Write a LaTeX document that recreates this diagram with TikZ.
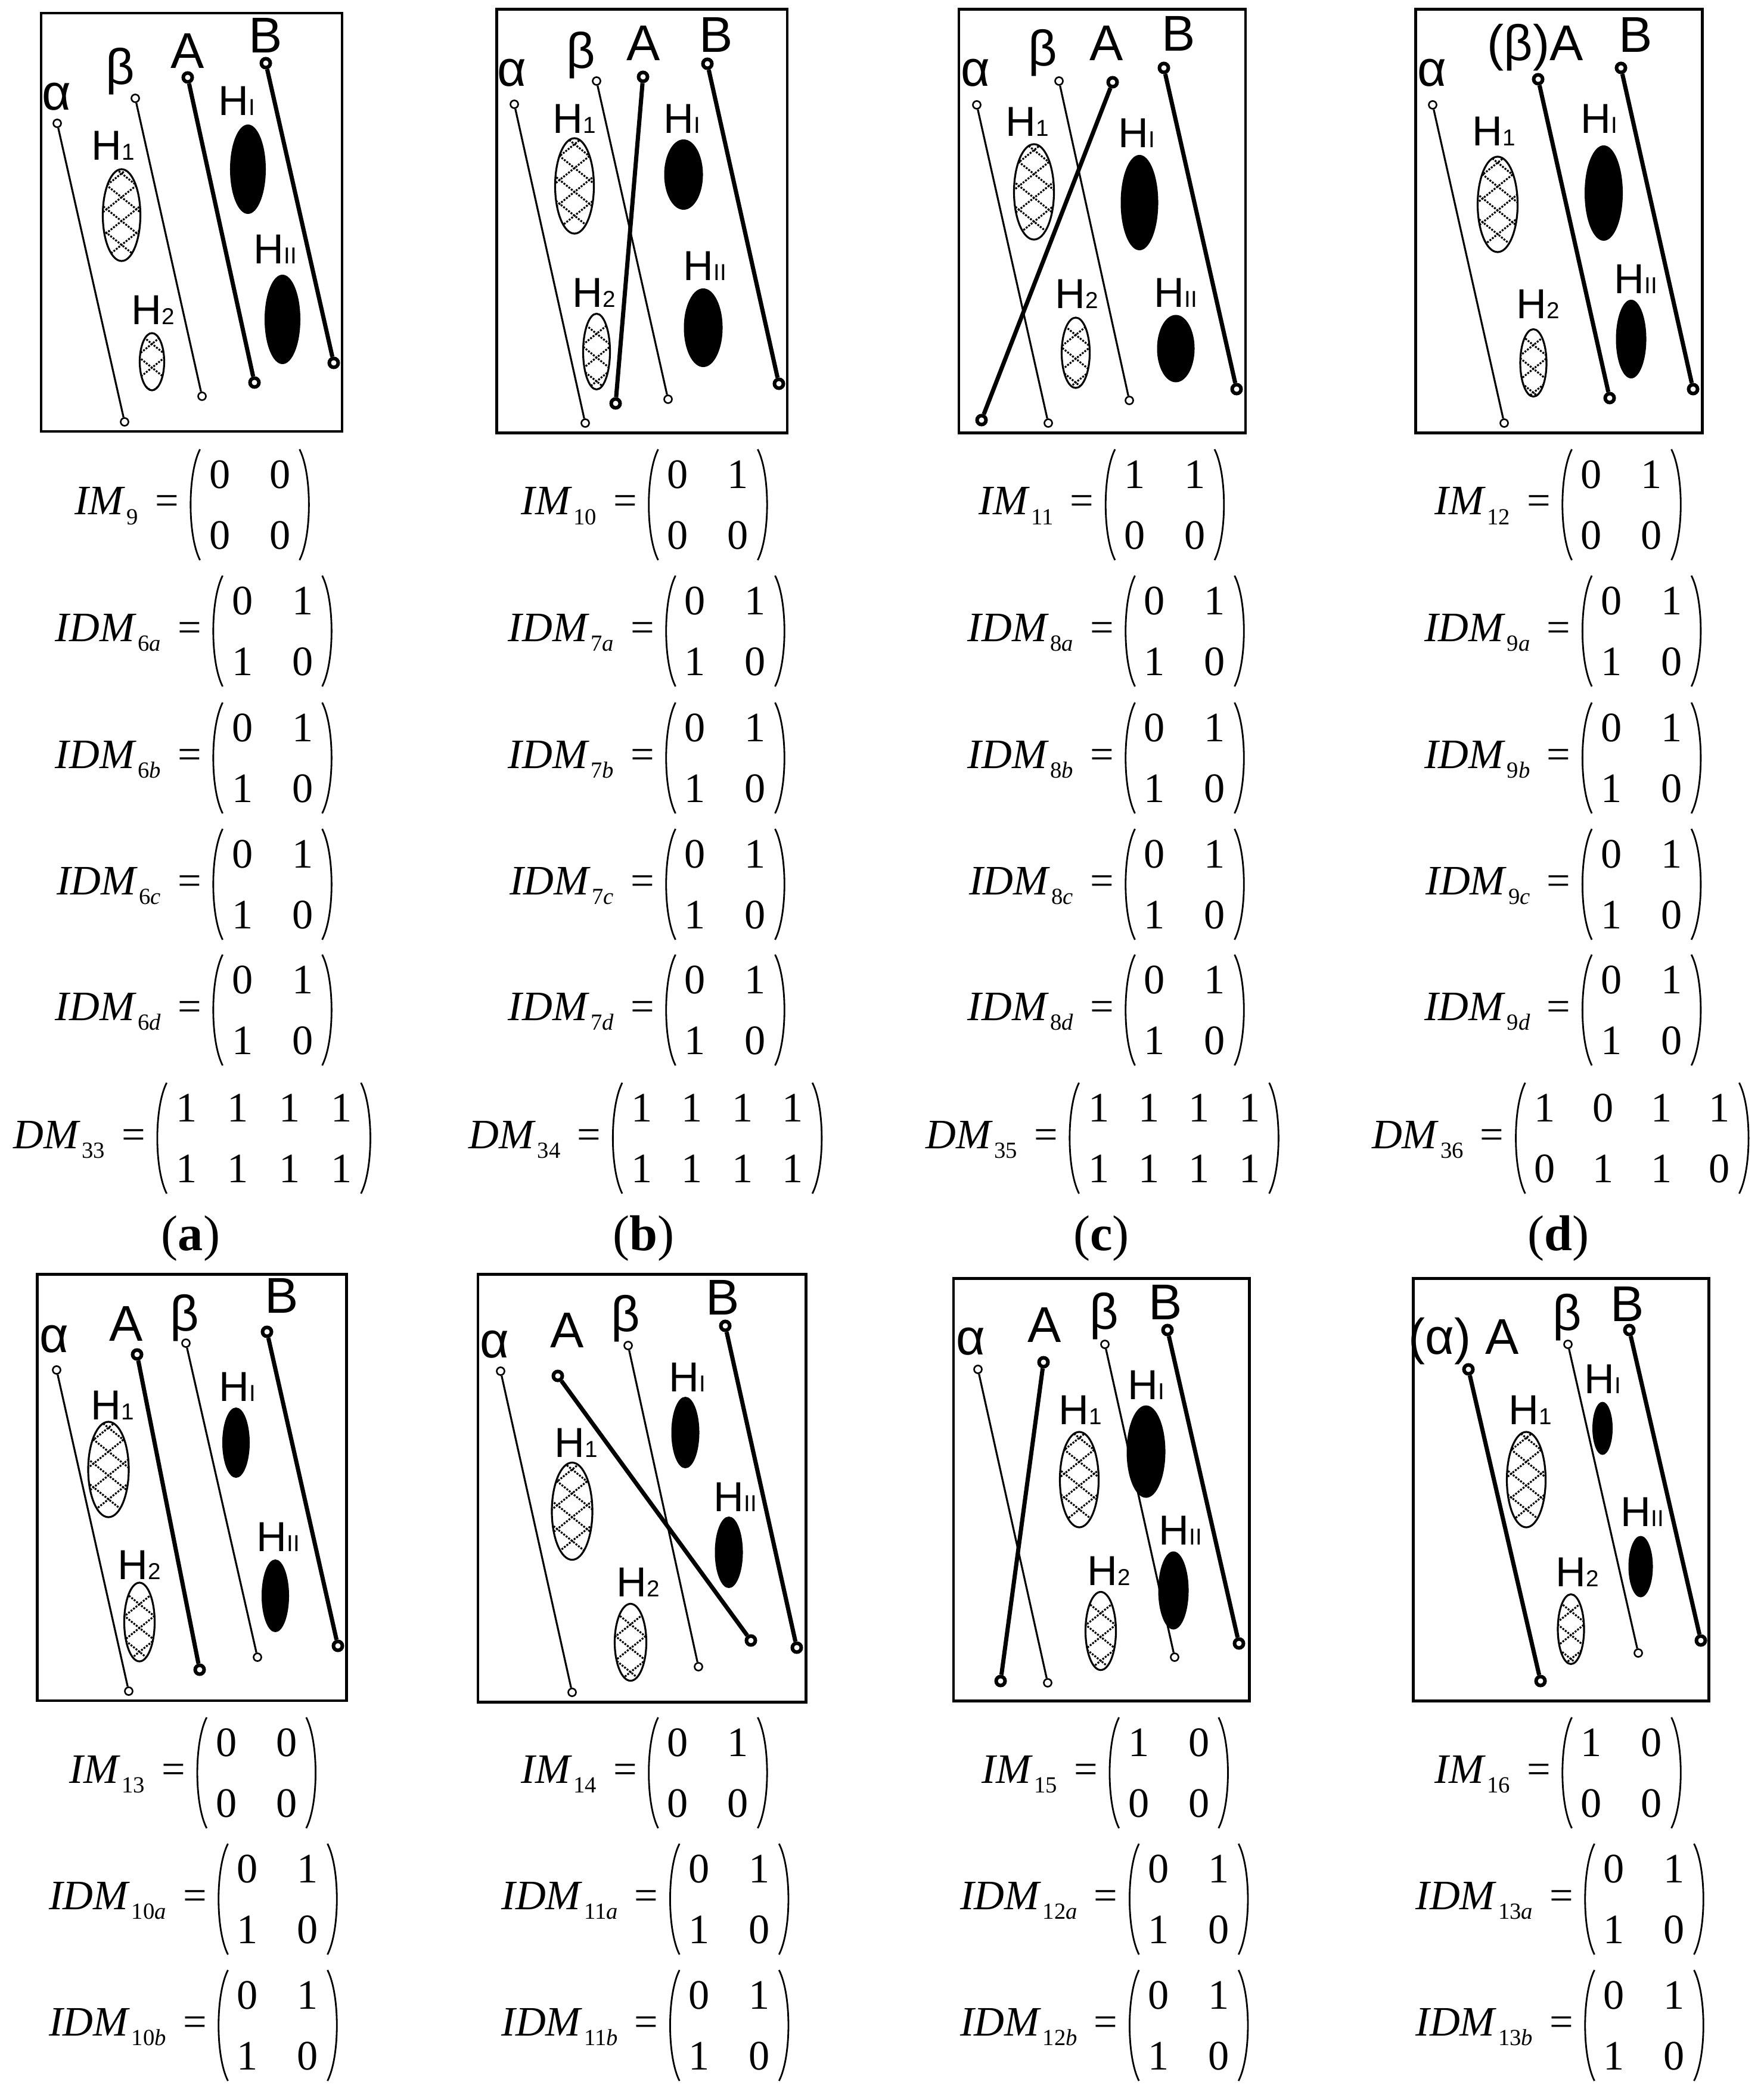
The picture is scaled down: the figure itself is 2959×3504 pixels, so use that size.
\documentclass[tikz,border=0pt]{standalone}
\usepackage{fontspec}
\setmainfont{Liberation Serif}
\newfontfamily\sansf{Liberation Sans}
\usetikzlibrary{shapes.geometric}
\newcommand\msub[1]{\hspace{0.08em}\raisebox{-0.24em}{\fontsize{11pt}{11pt}\selectfont #1}}
\newcommand\hsub[1]{{\fontsize{11pt}{11pt}\selectfont #1}}
\newcommand\mkseg[6]{\node[#2dot] (#1s) at (#3,#4) {}; \node[#2dot] (#1e) at (#5,#6) {}; \draw[#2line] (#1s) -- (#1e);}
\newcommand\myell[6]{\node[#2, minimum width=#5*0.2845pt, minimum height=#6*0.2845pt] (#1) at (#3,#4) {};}
\newcommand\mkeq[8]{%
 \node[lhsnode] (#1l) at ({#2-19},{#3+17}) {#4\hspace{0.4em}=};
 \draw[paren] ({#2+16},{#3-93}) .. controls ({#2-5},{#3-52}) and ({#2-5},{#3+52}) .. ({#2+16},{#3+93});
 \draw[paren] ({#2+#5-16},{#3-93}) .. controls ({#2+#5+5},{#3-52}) and ({#2+#5+5},{#3+52}) .. ({#2+#5-16},{#3+93});
 \foreach \v [count=\k from 0] in {#7} {\node[ent] (#1a\k) at ({#2+49+\k*(#5-98)/(#6-1)},{#3-51}) {\v};}
 \foreach \v [count=\k from 0] in {#8} {\node[ent] (#1b\k) at ({#2+49+\k*(#5-98)/(#6-1)},{#3+51}) {\v};}
}
\tikzset{
 panelbox/.style={draw, line width=1.3pt, inner sep=0pt},
 biglab/.style={font=\sansf\fontsize{24pt}{24pt}\selectfont, inner sep=0pt},
 hlab/.style={font=\sansf\fontsize{20pt}{20pt}\selectfont, inner sep=0pt},
 thindot/.style={circle, draw, fill=white, line width=0.75pt, inner sep=0pt, minimum size=0.13cm},
 thickdot/.style={circle, draw, fill=white, line width=1.7pt, inner sep=0pt, minimum size=0.15cm},
 thinline/.style={line width=0.9pt},
 thickline/.style={line width=2pt},
 hatchline/.style={line width=0.9pt, dash pattern=on 0.9pt off 0.6pt},
 hatchell/.style={ellipse, draw, fill=white, line width=0.9pt, inner sep=0pt,
   path picture={\foreach \k in {-4,...,4}{
     \draw[hatchline] ([shift={(\k*50-150,-110)}]path picture bounding box.center) -- ++(300,240);
     \draw[hatchline] ([shift={(\k*50-150,130)}]path picture bounding box.center) -- ++(300,-240);}}},
 blackell/.style={ellipse, fill=black, inner sep=0pt},
 paren/.style={line width=0.8pt},
 ent/.style={font=\fontsize{20pt}{24pt}\selectfont, inner sep=0pt},
 lhsnode/.style={font=\fontsize{20pt}{24pt}\selectfont, inner sep=0pt, anchor=base east},
 caplab/.style={font=\fontsize{24pt}{28pt}\selectfont, inner sep=0pt}
}
\begin{document}
\begin{tikzpicture}[x=0.01cm, y=-0.01cm]
\path[use as bounding box] (0,0) rectangle (2959,3504);
% ---------- panel a
\node[panelbox, minimum width=505*0.2845pt, minimum height=702*0.2845pt] (aBox) at (321.5,373) {};
\node[biglab] (aLal) at (95,162) {α};
\node[biglab] (aLbe) at (202,120) {β};
\node[biglab] (aLA) at (315,85) {A};
\node[biglab] (aLB) at (446,59) {B};
\mkseg{aal}{thin}{96}{207}{209}{708}
\mkseg{abe}{thin}{227}{165}{339}{665}
\mkseg{aA}{thick}{315}{130}{427}{642}
\mkseg{aB}{thick}{446}{106}{560}{609}
\node[hlab] (aH1) at (190,244) {H\hsub{1}};
\node[hlab] (aH2) at (257,520) {H\hsub{2}};
\node[hlab] (aHI) at (397,169) {H\hsub{I}};
\node[hlab] (aHII) at (462,418) {H\hsub{II}};
\myell{aE1}{hatchell}{204}{361}{63}{154}
\myell{aE2}{hatchell}{255}{607}{41}{96}
\myell{aEI}{blackell}{416}{284}{60}{150}
\myell{aEII}{blackell}{474}{536}{60}{150}
% ---------- panel b
\node[panelbox, minimum width=487*0.2845pt, minimum height=711*0.2845pt] (bBox) at (1077.2,371) {};
\node[biglab] (bLal) at (859,122) {α};
\node[biglab] (bLbe) at (975,93) {β};
\node[biglab] (bLA) at (1080,72) {A};
\node[biglab] (bLB) at (1202,58) {B};
\mkseg{bal}{thin}{863}{175}{982}{710}
\mkseg{bbe}{thin}{1001}{136}{1121}{670}
\mkseg{bA}{thick}{1079}{129}{1033}{677}
\mkseg{bB}{thick}{1187}{107}{1307}{644}
\node[hlab] (bH1) at (964,199) {H\hsub{1}};
\node[hlab] (bH2) at (997,491) {H\hsub{2}};
\node[hlab] (bHI) at (1144,199) {H\hsub{I}};
\node[hlab] (bHII) at (1183,446) {H\hsub{II}};
\myell{bE1}{hatchell}{964}{312}{65}{160}
\myell{bE2}{hatchell}{1001}{590}{45}{127}
\myell{bEI}{blackell}{1147}{293}{65}{118}
\myell{bEII}{blackell}{1180}{550}{65}{132}
% ---------- panel c
\node[panelbox, minimum width=480.5*0.2845pt, minimum height=711*0.2845pt] (cBox) at (1849.4,371) {};
\node[biglab] (cLal) at (1637,122) {α};
\node[biglab] (cLbe) at (1750,89) {β};
\node[biglab] (cLA) at (1857,72) {A};
\node[biglab] (cLB) at (1978,56) {B};
\mkseg{cal}{thin}{1639}{176}{1759}{710}
\mkseg{cbe}{thin}{1777}{136}{1895}{672}
\mkseg{cA}{thick}{1867}{138}{1647}{705}
\mkseg{cB}{thick}{1953}{114}{2075}{653}
\node[hlab] (cH1) at (1724,204) {H\hsub{1}};
\node[hlab] (cH2) at (1807,493) {H\hsub{2}};
\node[hlab] (cHI) at (1907,223) {H\hsub{I}};
\node[hlab] (cHII) at (1973,491) {H\hsub{II}};
\myell{cE1}{hatchell}{1735}{322}{67}{160}
\myell{cE2}{hatchell}{1805}{592}{47}{118}
\myell{cEI}{blackell}{1912}{340}{63}{160}
\myell{cEII}{blackell}{1973}{585}{63}{113}
% ---------- panel d
\node[panelbox, minimum width=480.5*0.2845pt, minimum height=711*0.2845pt] (dBox) at (2616,371) {};
\node[biglab] (dLal) at (2403,122) {α};
\node[biglab, anchor=base] (dLA) at (2576,102) {(β)A};
\node[biglab] (dLB) at (2745,58) {B};
\mkseg{dal}{thin}{2404}{176}{2524}{710}
\mkseg{dA}{thick}{2581}{133}{2701}{668}
\mkseg{dB}{thick}{2720}{114}{2841}{653}
\node[hlab] (dH1) at (2507,220) {H\hsub{1}};
\node[hlab] (dH2) at (2581,510) {H\hsub{2}};
\node[hlab] (dHI) at (2683,199) {H\hsub{I}};
\node[hlab] (dHII) at (2745,468) {H\hsub{II}};
\myell{dE1}{hatchell}{2513}{343}{67}{160}
\myell{dE2}{hatchell}{2573}{609}{44}{113}
\myell{dEI}{blackell}{2691}{324}{64}{160}
\myell{dEII}{blackell}{2737}{569}{51}{132}
% ---------- panel e
\node[panelbox, minimum width=518.5*0.2845pt, minimum height=715*0.2845pt] (eBox) at (321.9,2496.4) {};
\node[biglab] (eLal) at (91,2247) {α};
\node[biglab] (eLA) at (212,2221) {A};
\node[biglab] (eLbe) at (310,2212) {β};
\node[biglab] (eLB) at (473,2174) {B};
\mkseg{eal}{thin}{95}{2299}{216}{2838}
\mkseg{eA}{thick}{230}{2273}{335}{2802}
\mkseg{ebe}{thin}{312}{2254}{432}{2781}
\mkseg{eB}{thick}{448}{2235}{567}{2762}
\node[hlab] (eH1) at (189,2358) {H\hsub{1}};
\node[hlab] (eH2) at (234,2626) {H\hsub{2}};
\node[hlab] (eHI) at (398,2327) {H\hsub{I}};
\node[hlab] (eHII) at (467,2579) {H\hsub{II}};
\myell{eE1}{hatchell}{182}{2466}{68}{160}
\myell{eE2}{hatchell}{234}{2722}{51}{132}
\myell{eEI}{blackell}{396}{2421}{46}{118}
\myell{eEII}{blackell}{462}{2678}{46}{122}
% ---------- panel f
\node[panelbox, minimum width=549.8*0.2845pt, minimum height=717.4*0.2845pt] (fBox) at (1077.2,2497.5) {};
\node[biglab] (fLal) at (830,2256) {α};
\node[biglab] (fLA) at (952,2232) {A};
\node[biglab] (fLbe) at (1050,2213) {β};
\node[biglab] (fLB) at (1213,2177) {B};
\mkseg{fal}{thin}{840}{2301}{960}{2840}
\mkseg{fA}{thick}{936}{2309}{1260}{2753}
\mkseg{fbe}{thin}{1054}{2258}{1172}{2797}
\mkseg{fB}{thick}{1217}{2225}{1337}{2765}
\node[hlab] (fH1) at (967,2421) {H\hsub{1}};
\node[hlab] (fH2) at (1071,2655) {H\hsub{2}};
\node[hlab] (fHI) at (1153,2311) {H\hsub{I}};
\node[hlab] (fHII) at (1234,2512) {H\hsub{II}};
\myell{fE1}{hatchell}{960}{2536}{68}{163}
\myell{fE2}{hatchell}{1058}{2756}{53}{129}
\myell{fEI}{blackell}{1150}{2404}{47}{120}
\myell{fEII}{blackell}{1223}{2605}{47}{120}
% ---------- panel g
\node[panelbox, minimum width=496*0.2845pt, minimum height=708.5*0.2845pt] (gBox) at (1848.3,2499.8) {};
\node[biglab] (gLal) at (1629,2251) {α};
\node[biglab] (gLA) at (1753,2223) {A};
\node[biglab] (gLbe) at (1853,2209) {β};
\node[biglab] (gLB) at (1956,2185) {B};
\mkseg{gal}{thin}{1641}{2298}{1758}{2824}
\mkseg{gA}{thick}{1751}{2286}{1679}{2821}
\mkseg{gbe}{thin}{1854}{2256}{1971}{2781}
\mkseg{gB}{thick}{1959}{2232}{2079}{2758}
\node[hlab] (gH1) at (1813,2366) {H\hsub{1}};
\node[hlab] (gH2) at (1861,2636) {H\hsub{2}};
\node[hlab] (gHI) at (1923,2324) {H\hsub{I}};
\node[hlab] (gHII) at (1981,2568) {H\hsub{II}};
\myell{gE1}{hatchell}{1811}{2483}{65}{160}
\myell{gE2}{hatchell}{1847}{2737}{51}{131}
\myell{gEI}{blackell}{1923}{2436}{65}{155}
\myell{gEII}{blackell}{1969}{2669}{51}{131}
% ---------- panel h
\node[panelbox, minimum width=496*0.2845pt, minimum height=708.5*0.2845pt] (hBox) at (2619.3,2499.8) {};
\node[biglab, anchor=base] (hLA) at (2456,2272) {(α) A};
\node[biglab] (hLbe) at (2630,2211) {β};
\node[biglab] (hLB) at (2731,2188) {B};
\mkseg{hA}{thick}{2464}{2298}{2585}{2821}
\mkseg{hbe}{thin}{2631}{2256}{2749}{2774}
\mkseg{hB}{thick}{2734}{2232}{2854}{2753}
\node[hlab] (hH1) at (2568,2366) {H\hsub{1}};
\node[hlab] (hH2) at (2647,2638) {H\hsub{2}};
\node[hlab] (hHI) at (2689,2314) {H\hsub{I}};
\node[hlab] (hHII) at (2756,2537) {H\hsub{II}};
\myell{hE1}{hatchell}{2561}{2483}{65}{160}
\myell{hE2}{hatchell}{2636}{2734}{44}{117}
\myell{hEI}{blackell}{2689}{2397}{34}{89}
\myell{hEII}{blackell}{2753}{2629}{41}{103}
% ---------- matrices, top
\mkeq{IMa}{319.6}{847}{{\itshape IM}\msub{9}}{199}{2}{0,0}{0,0}
\mkeq{IDMaa}{357.6}{1059}{{\itshape IDM}\msub{6\textit{a}}}{199}{2}{0,1}{1,0}
\mkeq{IDMab}{357.6}{1272}{{\itshape IDM}\msub{6\textit{b}}}{199}{2}{0,1}{1,0}
\mkeq{IDMac}{357.6}{1484}{{\itshape IDM}\msub{6\textit{c}}}{199}{2}{0,1}{1,0}
\mkeq{IDMad}{357.6}{1695}{{\itshape IDM}\msub{6\textit{d}}}{199}{2}{0,1}{1,0}
\mkeq{DMa}{263.7}{1910}{{\itshape DM}\msub{33}}{358}{4}{1,1,1,1}{1,1,1,1}
\mkeq{IMb}{1088.4}{847}{{\itshape IM}\msub{10}}{199}{2}{0,1}{0,0}
\mkeq{IDMba}{1117.5}{1059}{{\itshape IDM}\msub{7\textit{a}}}{199}{2}{0,1}{1,0}
\mkeq{IDMbb}{1117.5}{1272}{{\itshape IDM}\msub{7\textit{b}}}{199}{2}{0,1}{1,0}
\mkeq{IDMbc}{1117.5}{1484}{{\itshape IDM}\msub{7\textit{c}}}{199}{2}{0,1}{1,0}
\mkeq{IDMbd}{1117.5}{1695}{{\itshape IDM}\msub{7\textit{d}}}{199}{2}{0,1}{1,0}
\mkeq{DMb}{1028.1}{1910}{{\itshape DM}\msub{34}}{351}{4}{1,1,1,1}{1,1,1,1}
\mkeq{IMc}{1855}{847}{{\itshape IM}\msub{11}}{199}{2}{1,1}{0,0}
\mkeq{IDMca}{1888.5}{1059}{{\itshape IDM}\msub{8\textit{a}}}{199}{2}{0,1}{1,0}
\mkeq{IDMcb}{1888.5}{1272}{{\itshape IDM}\msub{8\textit{b}}}{199}{2}{0,1}{1,0}
\mkeq{IDMcc}{1888.5}{1484}{{\itshape IDM}\msub{8\textit{c}}}{199}{2}{0,1}{1,0}
\mkeq{IDMcd}{1888.5}{1695}{{\itshape IDM}\msub{8\textit{d}}}{199}{2}{0,1}{1,0}
\mkeq{DMc}{1794.6}{1910}{{\itshape DM}\msub{35}}{351}{4}{1,1,1,1}{1,1,1,1}
\mkeq{IMd}{2621.5}{847}{{\itshape IM}\msub{12}}{199}{2}{0,1}{0,0}
\mkeq{IDMda}{2655.1}{1059}{{\itshape IDM}\msub{9\textit{a}}}{199}{2}{0,1}{1,0}
\mkeq{IDMdb}{2655.1}{1272}{{\itshape IDM}\msub{9\textit{b}}}{199}{2}{0,1}{1,0}
\mkeq{IDMdc}{2655.1}{1484}{{\itshape IDM}\msub{9\textit{c}}}{199}{2}{0,1}{1,0}
\mkeq{IDMdd}{2655.1}{1695}{{\itshape IDM}\msub{9\textit{d}}}{199}{2}{0,1}{1,0}
\mkeq{DMd}{2543.3}{1910}{{\itshape DM}\msub{36}}{391}{4}{1,0,1,1}{0,1,1,0}
\node[caplab] (capa) at (320,2078) {(\textbf{a})};
\node[caplab] (capb) at (1080,2078) {(\textbf{b})};
\node[caplab] (capc) at (1848,2078) {(\textbf{c})};
\node[caplab] (capd) at (2615,2078) {(\textbf{d})};
% ---------- matrices, bottom
\mkeq{IMe}{330.8}{2975}{{\itshape IM}\msub{13}}{199}{2}{0,0}{0,0}
\mkeq{IDMea}{366.5}{3187}{{\itshape IDM}\msub{10\textit{a}}}{199}{2}{0,1}{1,0}
\mkeq{IDMeb}{366.5}{3399}{{\itshape IDM}\msub{10\textit{b}}}{199}{2}{0,1}{1,0}
\mkeq{IMf}{1088.4}{2975}{{\itshape IM}\msub{14}}{199}{2}{0,1}{0,0}
\mkeq{IDMfa}{1124.2}{3187}{{\itshape IDM}\msub{11\textit{a}}}{199}{2}{0,1}{1,0}
\mkeq{IDMfb}{1124.2}{3399}{{\itshape IDM}\msub{11\textit{b}}}{199}{2}{0,1}{1,0}
\mkeq{IMg}{1861.7}{2975}{{\itshape IM}\msub{15}}{199}{2}{1,0}{0,0}
\mkeq{IDMga}{1895.2}{3187}{{\itshape IDM}\msub{12\textit{a}}}{199}{2}{0,1}{1,0}
\mkeq{IDMgb}{1895.2}{3399}{{\itshape IDM}\msub{12\textit{b}}}{199}{2}{0,1}{1,0}
\mkeq{IMh}{2621.5}{2975}{{\itshape IM}\msub{16}}{199}{2}{1,0}{0,0}
\mkeq{IDMha}{2659.5}{3187}{{\itshape IDM}\msub{13\textit{a}}}{199}{2}{0,1}{1,0}
\mkeq{IDMhb}{2659.5}{3399}{{\itshape IDM}\msub{13\textit{b}}}{199}{2}{0,1}{1,0}
\end{tikzpicture}
\end{document}
